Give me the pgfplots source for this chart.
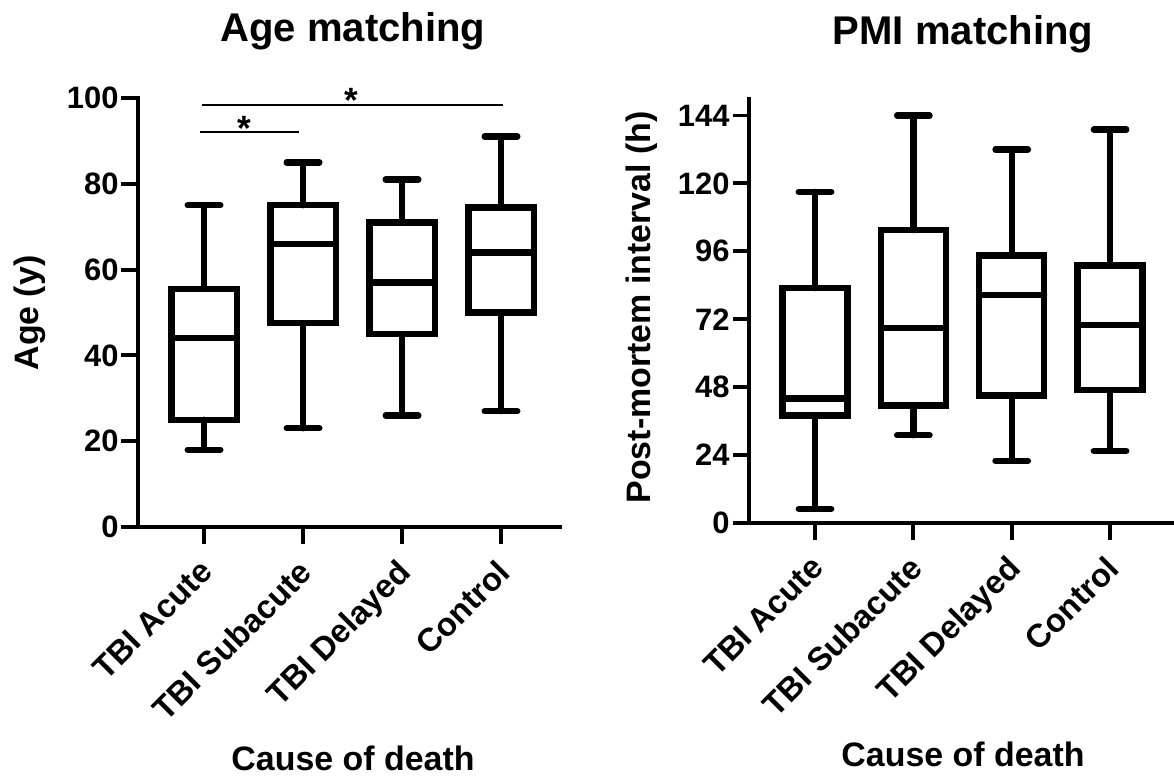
\documentclass[border=0pt]{standalone}
\usepackage{fontspec}
\setmainfont{Liberation Sans}
\usepackage{pgfplots}
\pgfplotsset{compat=1.18}
\usepgfplotslibrary{statistics}

\newcommand{\tickfont}{\bfseries\fontsize{17.6}{18}\selectfont}
\newcommand{\xtickfont}{\bfseries\fontsize{18.6}{19}\selectfont}
\newcommand{\labfont}{\bfseries\fontsize{19.3}{20}\selectfont}
\newcommand{\titfont}{\bfseries\fontsize{22.8}{24}\selectfont}

\pgfplotsset{
  matchbox/.style={
    scale only axis,
    axis lines=left,
    axis line style={-, line width=2.2pt, line cap=rect},
    tick align=outside,
    major tick length=0.33cm,
    tick style={line width=2.2pt, black},
    xtick={1,2,3,4},
    xticklabels={TBI Acute, TBI Subacute, TBI Delayed, Control},
    % shifts are taken in the rotated frame
    xticklabel style={rotate=45, anchor=north east, inner sep=0pt, font=\xtickfont,
      xshift=-0.283cm, yshift=-0.113cm},
    yticklabel style={inner sep=1.5pt, font=\tickfont},
    /pgf/number format/assume math mode=true,
    clip=false,
    boxplot/draw direction=y,
  },
  gbox/.style={black, line width=3.6pt, line cap=round, line join=miter,
    boxplot/box extend=0.66, boxplot/whisker extend=0.33},
}

\begin{document}
\begin{tikzpicture}
\useasboundingbox (0,0) rectangle (23.48,15.52);

% left panel: age
\begin{axis}[matchbox, at={(2.76cm,4.98cm)}, anchor=south west,
  width=8.44cm, height=8.58cm,
  xmin=0.333, xmax=4.596, ymin=0, ymax=100, ytick={0,20,...,100}]
\addplot[gbox, boxplot prepared={draw position=1, lower whisker=18, lower quartile=25,
  median=44, upper quartile=55.5, upper whisker=75}] coordinates {};
\addplot[gbox, boxplot prepared={draw position=2, lower whisker=23, lower quartile=47.5,
  median=66, upper quartile=75, upper whisker=85}] coordinates {};
\addplot[gbox, boxplot prepared={draw position=3, lower whisker=26, lower quartile=45,
  median=57, upper quartile=71, upper whisker=81}] coordinates {};
\addplot[gbox, boxplot prepared={draw position=4, lower whisker=27, lower quartile=50,
  median=64, upper quartile=74.5, upper whisker=91}] coordinates {};
% significance bars
\addplot[black, line width=1.1pt] coordinates {(0.98,98.4) (4.02,98.4)};
\addplot[black, line width=1.1pt] coordinates {(0.96,92.1) (1.96,92.1)};
\node[font=\bfseries\fontsize{20}{20}\selectfont, anchor=base, inner sep=0pt] at (axis cs:2.49,96.6) {*};
\node[font=\bfseries\fontsize{20}{20}\selectfont, anchor=base, inner sep=0pt] at (axis cs:1.41,90.1) {*};
\end{axis}

% right panel: PMI
\begin{axis}[matchbox, at={(14.98cm,5.06cm)}, anchor=south west,
  width=8.46cm, height=8.49cm,
  xmin=0.329, xmax=4.63, ymin=0, ymax=150, ytick={0,24,...,144}]
\addplot[gbox, boxplot prepared={draw position=1, lower whisker=5, lower quartile=38,
  median=44, upper quartile=83, upper whisker=117}] coordinates {};
\addplot[gbox, boxplot prepared={draw position=2, lower whisker=31, lower quartile=41.5,
  median=69, upper quartile=103.5, upper whisker=144}] coordinates {};
\addplot[gbox, boxplot prepared={draw position=3, lower whisker=22, lower quartile=45,
  median=80.5, upper quartile=94.5, upper whisker=132}] coordinates {};
\addplot[gbox, boxplot prepared={draw position=4, lower whisker=25.5, lower quartile=47,
  median=70, upper quartile=91, upper whisker=139}] coordinates {};
\end{axis}

% titles and axis labels
\node[font=\titfont, anchor=base] at (7.06,14.68) {Age matching};
\node[font=\titfont, anchor=base] at (19.26,14.62) {PMI matching};
\node[font=\labfont, anchor=base] at (7.06,0.11) {Cause of death};
\node[font=\labfont, anchor=base] at (19.26,0.19) {Cause of death};
\node[font=\labfont, anchor=base, rotate=90] at (0.77,9.26) {Age (y)};
\node[font=\labfont, anchor=base, rotate=90] at (13.0,9.37) {Post-mortem interval (h)};
\end{tikzpicture}
\end{document}
